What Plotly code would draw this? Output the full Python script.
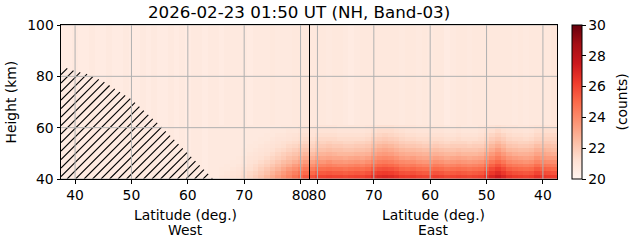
import plotly.graph_objects as go

# ---------------- data ----------------
TITLE = "2026-02-23 01:50 UT (NH, Band-03)"
LAT_EDGE = 81.5      # poleward edge of each half (deg)
LAT_MIN = 37.5       # equatorward edge (deg)

west_lats = [38 + i for i in range(44)]          # 38 .. 81 (left to right)
east_lats = [81 - i for i in range(44)]          # 81 .. 38 (left to right)
heights = [40.75 + 1.5 * i for i in range(40)]   # cell centres, km

# background (upper atmosphere) level per column
west_bg = [20.6, 20.6, 20.7, 20.6, 20.6, 20.7, 20.6, 20.6, 20.7, 20.6,
           20.6, 20.7, 20.6, 20.6, 20.7, 20.6, 20.7, 20.6, 20.6, 20.7,
           20.6, 20.7, 20.6, 20.7, 20.7, 20.6, 20.7, 20.7, 20.6, 20.7,
           20.7, 20.7, 20.7, 20.6, 20.7, 20.7, 20.7, 20.8, 20.7, 20.7,
           20.7, 20.8, 20.8, 20.8]
east_bg = [20.8, 20.8, 20.8, 20.7, 20.8, 20.8, 20.7, 20.6, 20.7, 20.8, 20.8,
           20.8, 20.8, 20.8, 20.8, 20.8, 20.7, 20.8, 20.8, 20.7, 20.8, 20.7,
           20.8, 20.8, 20.6, 20.7, 20.8, 20.8, 20.7, 20.8, 20.8, 20.8, 20.8,
           20.8, 20.8, 20.8, 20.7, 20.8, 20.7, 20.8, 20.8, 20.8, 20.8, 20.9]

# lower rows (40-61 km), west side, latitudes 66..81
west_low_lats = [66 + i for i in range(16)]
west_low = [
    [20.9, 21.0, 21.1, 21.2, 21.4, 21.6, 21.9, 22.2, 22.6, 23.0, 23.4, 23.8, 24.2, 24.7, 25.1, 25.5],
    [20.8, 20.9, 21.0, 21.1, 21.3, 21.5, 21.7, 22.0, 22.3, 22.7, 23.1, 23.5, 23.9, 24.3, 24.7, 25.0],
    [20.8, 20.8, 20.9, 21.0, 21.2, 21.3, 21.5, 21.8, 22.1, 22.4, 22.7, 23.1, 23.5, 23.8, 24.2, 24.5],
    [20.7, 20.8, 20.8, 20.9, 21.0, 21.2, 21.4, 21.6, 21.8, 22.1, 22.4, 22.7, 23.0, 23.4, 23.7, 24.0],
    [20.7, 20.7, 20.8, 20.8, 20.9, 21.1, 21.2, 21.4, 21.6, 21.8, 22.1, 22.4, 22.6, 22.9, 23.2, 23.5],
    [20.7, 20.7, 20.7, 20.8, 20.9, 21.0, 21.1, 21.2, 21.4, 21.6, 21.8, 22.0, 22.3, 22.5, 22.8, 23.0],
    [20.7, 20.7, 20.7, 20.7, 20.8, 20.9, 21.0, 21.1, 21.2, 21.4, 21.6, 21.8, 22.0, 22.2, 22.4, 22.6],
    [20.7, 20.7, 20.7, 20.7, 20.8, 20.8, 20.9, 21.0, 21.1, 21.2, 21.4, 21.5, 21.7, 21.9, 22.1, 22.2],
    [20.7, 20.7, 20.7, 20.7, 20.7, 20.8, 20.8, 20.9, 21.0, 21.1, 21.2, 21.3, 21.5, 21.6, 21.8, 21.9],
    [20.7, 20.7, 20.7, 20.7, 20.7, 20.7, 20.8, 20.8, 20.9, 21.0, 21.1, 21.2, 21.3, 21.4, 21.5, 21.6],
    [20.7, 20.7, 20.7, 20.7, 20.7, 20.7, 20.7, 20.8, 20.8, 20.9, 21.0, 21.0, 21.1, 21.2, 21.3, 21.4],
    [20.7, 20.7, 20.7, 20.7, 20.7, 20.7, 20.7, 20.7, 20.8, 20.8, 20.9, 20.9, 21.0, 21.1, 21.2, 21.2],
    [20.7, 20.7, 20.7, 20.7, 20.7, 20.7, 20.7, 20.7, 20.7, 20.8, 20.8, 20.8, 20.9, 20.9, 21.0, 21.0],
    [20.7, 20.7, 20.7, 20.7, 20.7, 20.7, 20.7, 20.7, 20.7, 20.7, 20.7, 20.8, 20.8, 20.8, 20.9, 20.9],
]

# lower rows (40-61 km), east side, latitudes 81..38
east_low = [
    [25.6, 26.0, 26.0, 26.1, 26.0, 26.0, 25.9, 26.0, 26.1, 26.0, 26.2,
     26.6, 26.8, 26.9, 26.8, 26.6, 26.3, 26.2, 26.3, 26.1, 26.0, 26.0,
     26.2, 26.1, 25.9, 26.0, 26.1, 26.0, 25.9, 26.0, 26.1, 26.5, 27.0,
     27.4, 27.0, 26.5, 26.3, 26.2, 26.1, 26.2, 26.6, 26.4, 26.3, 26.2],
    [25.0, 25.4, 25.4, 25.5, 25.4, 25.4, 25.3, 25.4, 25.5, 25.4, 25.6,
     26.0, 26.2, 26.3, 26.2, 26.0, 25.7, 25.6, 25.7, 25.5, 25.4, 25.4,
     25.6, 25.5, 25.3, 25.4, 25.5, 25.4, 25.3, 25.4, 25.5, 25.9, 26.4,
     26.8, 26.4, 25.9, 25.7, 25.6, 25.5, 25.6, 26.0, 25.8, 25.7, 25.6],
    [24.4, 24.8, 24.8, 24.9, 24.8, 24.8, 24.7, 24.8, 24.9, 24.8, 25.0,
     25.4, 25.6, 25.7, 25.6, 25.4, 25.1, 25.0, 25.1, 24.9, 24.8, 24.8,
     25.0, 24.9, 24.7, 24.8, 24.9, 24.8, 24.7, 24.8, 24.9, 25.3, 25.8,
     26.2, 25.8, 25.3, 25.1, 25.0, 24.9, 25.0, 25.4, 25.2, 25.1, 25.0],
    [23.8, 24.2, 24.2, 24.3, 24.2, 24.1, 24.1, 24.2, 24.3, 24.2, 24.4,
     24.8, 25.0, 25.1, 25.0, 24.8, 24.5, 24.4, 24.5, 24.3, 24.2, 24.2,
     24.4, 24.3, 24.1, 24.2, 24.3, 24.2, 24.1, 24.2, 24.3, 24.7, 25.2,
     25.6, 25.2, 24.7, 24.5, 24.4, 24.3, 24.4, 24.8, 24.6, 24.5, 24.4],
    [23.3, 23.7, 23.6, 23.8, 23.6, 23.6, 23.5, 23.6, 23.7, 23.6, 23.8,
     24.2, 24.4, 24.5, 24.4, 24.2, 24.0, 23.9, 23.9, 23.7, 23.6, 23.6,
     23.8, 23.7, 23.5, 23.6, 23.7, 23.6, 23.5, 23.6, 23.7, 24.1, 24.6,
     25.0, 24.6, 24.1, 23.9, 23.8, 23.7, 23.8, 24.2, 24.0, 23.9, 23.9],
    [22.8, 23.2, 23.1, 23.2, 23.1, 23.1, 23.0, 23.1, 23.2, 23.1, 23.3,
     23.7, 23.9, 24.0, 23.9, 23.7, 23.4, 23.3, 23.4, 23.2, 23.1, 23.1,
     23.3, 23.2, 23.0, 23.1, 23.2, 23.1, 23.0, 23.1, 23.2, 23.6, 24.0,
     24.4, 24.0, 23.6, 23.4, 23.3, 23.2, 23.3, 23.7, 23.5, 23.4, 23.4],
    [22.4, 22.7, 22.7, 22.8, 22.7, 22.6, 22.6, 22.6, 22.7, 22.7, 22.8,
     23.2, 23.4, 23.5, 23.4, 23.2, 23.0, 22.9, 22.9, 22.8, 22.7, 22.7,
     22.8, 22.7, 22.6, 22.6, 22.7, 22.6, 22.6, 22.6, 22.7, 23.1, 23.5,
     23.9, 23.5, 23.1, 22.9, 22.8, 22.8, 22.9, 23.2, 23.1, 23.0, 22.9],
    [22.0, 22.3, 22.3, 22.4, 22.3, 22.3, 22.2, 22.2, 22.3, 22.3, 22.4,
     22.8, 23.0, 23.1, 23.0, 22.8, 22.6, 22.5, 22.5, 22.4, 22.3, 22.3,
     22.4, 22.3, 22.2, 22.2, 22.3, 22.2, 22.2, 22.2, 22.3, 22.6, 23.0,
     23.4, 23.0, 22.6, 22.5, 22.4, 22.4, 22.5, 22.8, 22.7, 22.6, 22.5],
    [21.7, 22.0, 22.0, 22.1, 22.0, 22.0, 21.9, 21.9, 22.0, 22.0, 22.1,
     22.4, 22.6, 22.7, 22.6, 22.4, 22.2, 22.1, 22.1, 22.0, 21.9, 21.9,
     22.0, 21.9, 21.8, 21.9, 21.9, 21.9, 21.8, 21.9, 21.9, 22.2, 22.6,
     22.9, 22.6, 22.2, 22.1, 22.0, 22.0, 22.1, 22.4, 22.3, 22.3, 22.2],
    [21.5, 21.8, 21.7, 21.8, 21.7, 21.7, 21.6, 21.6, 21.7, 21.7, 21.8,
     22.1, 22.2, 22.3, 22.2, 22.1, 21.9, 21.8, 21.8, 21.7, 21.6, 21.6,
     21.7, 21.6, 21.5, 21.6, 21.6, 21.6, 21.5, 21.6, 21.6, 21.9, 22.2,
     22.5, 22.2, 21.9, 21.8, 21.7, 21.7, 21.8, 22.0, 22.0, 22.0, 21.9],
    [21.3, 21.5, 21.5, 21.5, 21.5, 21.4, 21.4, 21.4, 21.4, 21.4, 21.5,
     21.8, 21.9, 22.0, 21.9, 21.8, 21.6, 21.5, 21.5, 21.4, 21.4, 21.4,
     21.4, 21.4, 21.3, 21.3, 21.4, 21.3, 21.3, 21.3, 21.4, 21.6, 21.9,
     22.1, 21.9, 21.6, 21.5, 21.5, 21.4, 21.5, 21.7, 21.7, 21.7, 21.7],
    [21.1, 21.3, 21.3, 21.3, 21.3, 21.2, 21.2, 21.2, 21.2, 21.2, 21.3,
     21.5, 21.6, 21.7, 21.6, 21.5, 21.4, 21.3, 21.3, 21.2, 21.2, 21.2,
     21.2, 21.2, 21.1, 21.1, 21.2, 21.1, 21.1, 21.1, 21.2, 21.4, 21.6,
     21.8, 21.6, 21.4, 21.3, 21.3, 21.2, 21.3, 21.5, 21.5, 21.5, 21.5],
    [21.0, 21.1, 21.1, 21.1, 21.1, 21.0, 21.0, 21.0, 21.0, 21.0, 21.1,
     21.3, 21.4, 21.4, 21.4, 21.3, 21.2, 21.1, 21.1, 21.0, 21.0, 21.0,
     21.0, 21.0, 20.9, 20.9, 21.0, 20.9, 20.9, 20.9, 21.0, 21.2, 21.3,
     21.5, 21.3, 21.2, 21.1, 21.1, 21.0, 21.1, 21.3, 21.3, 21.3, 21.3],
    [20.9, 21.0, 21.0, 21.0, 21.0, 20.9, 20.9, 20.9, 20.9, 20.9, 21.0,
     21.1, 21.2, 21.2, 21.2, 21.1, 21.0, 21.0, 21.0, 20.9, 20.9, 20.9,
     20.9, 20.9, 20.8, 20.8, 20.9, 20.8, 20.8, 20.8, 20.9, 21.0, 21.1,
     21.2, 21.1, 21.0, 21.0, 20.9, 20.9, 21.0, 21.1, 21.1, 21.1, 21.1],
]

# hatched (no-data) region on the west side: latitude / height outline
hatch_lat = [37.5, 37.5, 40.0, 42.0, 45.0, 50.0, 55.0, 60.0, 64.5]
hatch_h = [40.0, 84.0, 82.0, 81.0, 78.0, 71.0, 61.0, 50.0, 40.0]

tick_lats = [40, 50, 60, 70, 80]
ytick_vals = [40, 60, 80, 100]
cbar_ticks = [20, 22, 24, 26, 28, 30]

# ---------------- build plotting coordinates ----------------
def west_u(lat):
    return lat - LAT_MIN

def east_u(lat):
    return (LAT_EDGE - LAT_MIN) + (LAT_EDGE - lat)

x_cells = [west_u(l) for l in west_lats] + [east_u(l) for l in east_lats]
n_low = len(west_low)
z = []
for r in range(len(heights)):
    row = []
    for i, lat in enumerate(west_lats):
        if r < n_low and lat in west_low_lats:
            row.append(west_low[r][west_low_lats.index(lat)])
        else:
            row.append(west_bg[i])
    for i, lat in enumerate(east_lats):
        row.append(east_low[r][i] if r < n_low else east_bg[i])
    z.append(row)

xtick_vals = [west_u(l) for l in tick_lats] + [east_u(l) for l in tick_lats]
xtick_text = [str(l) for l in tick_lats] * 2
x_max = 2 * (LAT_EDGE - LAT_MIN)
Y0, Y1 = 40, 100

reds = [[0.0, "#fff5f0"], [0.125, "#fee0d2"], [0.25, "#fcbba1"], [0.375, "#fc9272"],
        [0.5, "#fb6a4a"], [0.625, "#ef3b2c"], [0.75, "#cb181d"], [0.875, "#a50f15"],
        [1.0, "#67000d"]]

# ---------------- figure geometry ----------------
W, H = 631, 243
L, R, T, B = 61, 74, 25, 64
PW, PH = W - L - R, H - T - B
FONT = "DejaVu Sans"
FS = 13.9
SX = PW / x_max          # px per x unit
SY = PH / (Y1 - Y0)      # px per km

def py(pix):  # pixel y (from top) -> paper y
    return (H - B - pix) / PH

def px(pix):  # pixel x -> paper x
    return (pix - L) / PW

# ---- hatch lines: 45-degree (screen space) lines clipped to the hatch polygon ----
poly = [(west_u(a) * SX, (h - Y0) * SY) for a, h in zip(hatch_lat, hatch_h)]
HATCH_STEP = 8.5  # px horizontal spacing
hx, hy = [], []
xs_all = [p[0] for p in poly]
ys_all = [p[1] for p in poly]
c = -max(ys_all) - HATCH_STEP
while c < max(xs_all) + HATCH_STEP:
    ts = []
    n = len(poly)
    for i in range(n):
        x1, y1 = poly[i]
        x2, y2 = poly[(i + 1) % n]
        f1 = x1 - y1 - c
        f2 = x2 - y2 - c
        if (f1 > 0) != (f2 > 0) and f1 != f2:
            s = f1 / (f1 - f2)
            ts.append(y1 + s * (y2 - y1))
    ts.sort()
    for k in range(0, len(ts) - 1, 2):
        ya, yb = ts[k], ts[k + 1]
        hx += [(c + ya) / SX, (c + yb) / SX, None]
        hy += [ya / SY + Y0, yb / SY + Y0, None]
    c += HATCH_STEP

fig = go.Figure()
fig.add_trace(go.Heatmap(
    x=x_cells, y=heights, z=z, zmin=20, zmax=30, colorscale=reds,
    hoverinfo="skip",
    colorbar=dict(
        x=px(572), xanchor="left", xpad=0, ypad=0,
        y=0.5, yanchor="middle", len=1, lenmode="fraction",
        thickness=10, thicknessmode="pixels",
        outlinewidth=1, outlinecolor="black",
        tickvals=cbar_ticks, ticks="outside", ticklen=3.5, tickwidth=1,
        tickcolor="black", tickfont=dict(family=FONT, size=FS, color="black"),
    ),
))

fig.add_trace(go.Scatter(
    x=hx, y=hy, mode="lines", line=dict(color="black", width=1.1),
    hoverinfo="skip", showlegend=False, cliponaxis=True,
))

HALF_PX = 0.5  # align 1-px lines to the pixel grid
shapes = []
for xv in xtick_vals:
    shapes.append(dict(type="line", xref="x", yref="paper", x0=xv, x1=xv, y0=0, y1=1,
                       line=dict(color="#b0b0b0", width=1), layer="above"))
for yv in ytick_vals:
    shapes.append(dict(type="line", xref="paper", yref="y", x0=0, x1=1, y0=yv, y1=yv,
                       line=dict(color="#b0b0b0", width=1), layer="above"))
div_x = LAT_EDGE - LAT_MIN + HALF_PX / SX
shapes.append(dict(type="line", xref="x", yref="paper", x0=div_x, x1=div_x, y0=0, y1=1,
                   line=dict(color="black", width=1), layer="above"))

annotations = []
for xc, side in [(x_max / 4, "West"), (3 * x_max / 4, "East")]:
    annotations.append(dict(text="Latitude (deg.)", xref="x", yref="paper", x=xc, y=py(214.5),
                            xanchor="center", yanchor="middle", showarrow=False,
                            font=dict(family=FONT, size=FS, color="black")))
    annotations.append(dict(text=side, xref="x", yref="paper", x=xc, y=py(229.5),
                            xanchor="center", yanchor="middle", showarrow=False,
                            font=dict(family=FONT, size=FS, color="black")))
annotations.append(dict(text="Height (km)", xref="paper", yref="paper", x=px(10.5), y=0.5,
                        textangle=-90, xanchor="center", yanchor="middle", showarrow=False,
                        font=dict(family=FONT, size=FS, color="black")))
annotations.append(dict(text="(counts)", xref="paper", yref="paper", x=px(621.5), y=0.5,
                        textangle=-90, xanchor="center", yanchor="middle", showarrow=False,
                        font=dict(family=FONT, size=FS, color="black")))
annotations.append(dict(text=TITLE, xref="paper", yref="paper", x=px(298.7), y=py(12),
                        xanchor="center", yanchor="middle", showarrow=False,
                        font=dict(family=FONT, size=16.7, color="black")))

axis_common = dict(showgrid=False, zeroline=False, showline=True, mirror=True,
                   linecolor="black", linewidth=1, ticks="outside", ticklen=3.5,
                   tickwidth=1, tickcolor="black",
                   tickfont=dict(family=FONT, size=FS, color="black"))

fig.update_layout(
    width=W, height=H, margin=dict(l=L, r=R, t=T, b=B, autoexpand=False),
    paper_bgcolor="white", plot_bgcolor="white",
    xaxis=dict(range=[0, x_max], tickvals=xtick_vals, ticktext=xtick_text,
               tickangle=0, **axis_common),
    yaxis=dict(range=[Y0, Y1], tickvals=ytick_vals, **axis_common),
    shapes=shapes, annotations=annotations, showlegend=False,
)

fig.write_html("out.html")
